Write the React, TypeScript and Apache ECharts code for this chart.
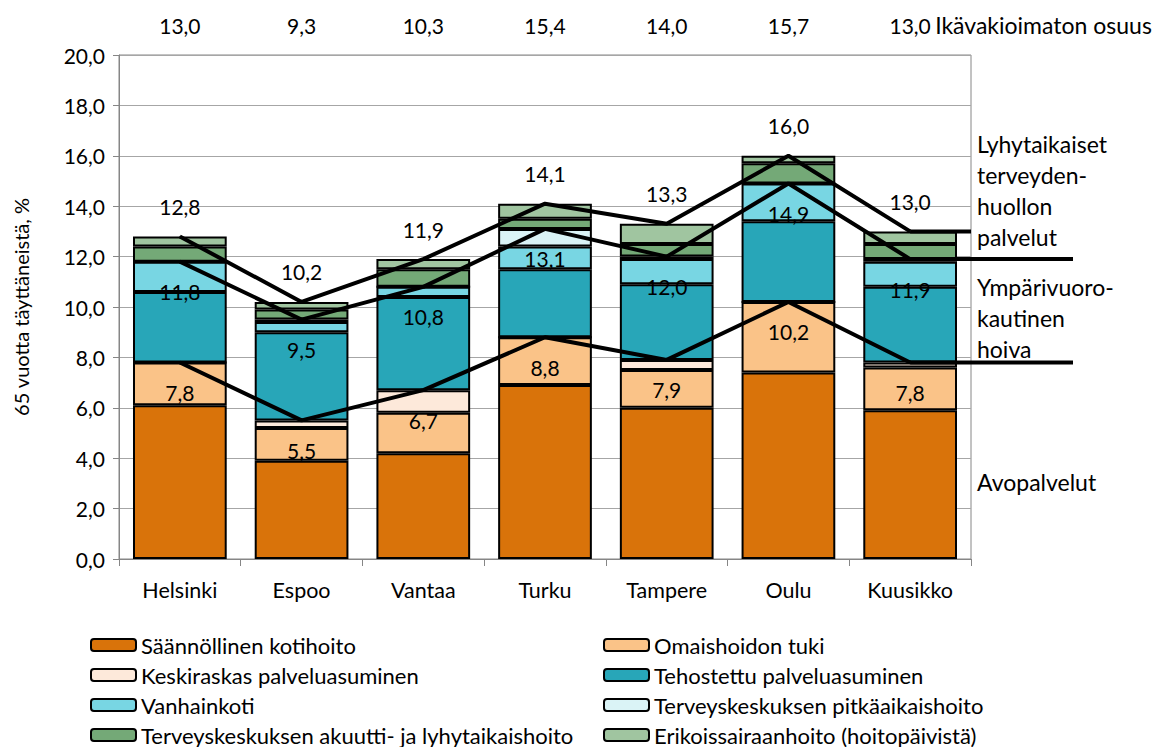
import React, { useEffect, useRef } from "react";
import * as echarts from "echarts";

const categories = ["Helsinki", "Espoo", "Vantaa", "Turku", "Tampere", "Oulu", "Kuusikko"];

const kotihoito = [6.1, 3.9, 4.2, 6.9, 6.0, 7.4, 5.9];
const omaishoito = [1.7, 1.3, 1.6, 1.9, 1.5, 2.8, 1.7];
const keskiraskas = [0.0, 0.3, 0.9, 0.0, 0.4, 0.0, 0.2];
const tehostettu = [2.8, 3.5, 3.7, 2.7, 3.0, 3.2, 3.0];
const vanhainkoti = [1.2, 0.4, 0.4, 0.9, 1.0, 1.5, 1.0];
const tkPitkaaikainen = [0.0, 0.1, 0.0, 0.7, 0.1, 0.0, 0.1];
const tkAkuutti = [0.6, 0.4, 0.7, 0.4, 0.5, 0.8, 0.6];
const erikoissairaanhoito = [0.4, 0.3, 0.4, 0.6, 0.8, 0.3, 0.5];

const avopalvelutTotal = [7.8, 5.5, 6.7, 8.8, 7.9, 10.2, 7.8];
const ymparivuorokautinenTotal = [11.8, 9.5, 10.8, 13.1, 12.0, 14.9, 11.9];
const kaikkiTotal = [12.8, 10.2, 11.9, 14.1, 13.3, 16.0, 13.0];

const ikavakioimaton = [13.0, 9.3, 10.3, 15.4, 14.0, 15.7, 13.0];

const yTicks = { min: 0, max: 20, interval: 2 };

const FONT = "Lato, 'Open Sans', sans-serif";
const fmt = (v: number) => v.toFixed(1).replace(".", ",");

const barSeriesDefs = [
  { name: "Säännöllinen kotihoito", data: kotihoito, color: "#D9730A" },
  { name: "Omaishoidon tuki", data: omaishoito, color: "#FAC388" },
  { name: "Keskiraskas palveluasuminen", data: keskiraskas, color: "#FDE9DA" },
  { name: "Tehostettu palveluasuminen", data: tehostettu, color: "#28A6B8" },
  { name: "Vanhainkoti", data: vanhainkoti, color: "#78D6E3" },
  { name: "Terveyskeskuksen pitkäaikaishoito", data: tkPitkaaikainen, color: "#DAF3F6" },
  { name: "Terveyskeskuksen akuutti- ja lyhytaikaishoito", data: tkAkuutti, color: "#74A977" },
  { name: "Erikoissairaanhoito (hoitopäivistä)", data: erikoissairaanhoito, color: "#A0C5A0" },
];

export default function App() {
  const ref = useRef<HTMLDivElement>(null);

  useEffect(() => {
    document.body.style.margin = "0";
    if (!ref.current) return;
    const chart = echarts.init(ref.current, undefined, { renderer: "svg" });

    const gridLeft = 119;
    const gridRight = 201;
    const plotRight = 1172 - gridRight;

    const bars = barSeriesDefs.map((d) => ({
      name: d.name,
      type: "bar",
      stack: "total",
      data: d.data,
      barCategoryGap: "23%",
      itemStyle: { color: d.color, borderColor: "#000", borderWidth: 2 },
      emphasis: { disabled: true },
    }));

    const lineDef = (name: string, data: number[], position: string, distance: number) => ({
      name,
      type: "line",
      data,
      symbol: "circle",
      symbolSize: 1,
      itemStyle: { color: "#000" },
      lineStyle: { color: "#000", width: 4 },
      z: 5,
      label: {
        show: true,
        position,
        distance,
        formatter: (p: any) => fmt(p.value),
        fontFamily: FONT,
        fontSize: 21,
        color: "#000",
      },
      emphasis: { disabled: true },
    });

    const rowCenters = [645, 675, 705, 735];
    const legends: any[] = [];
    barSeriesDefs.forEach((d, i) => {
      const row = Math.floor(i / 2);
      const col = i % 2;
      legends.push({
        left: col === 0 ? 90 : 603,
        top: rowCenters[row] - 11,
        padding: 0,
        orient: "horizontal",
        itemWidth: 45,
        itemHeight: 12,
        data: [d.name],
        textStyle: { fontFamily: FONT, fontSize: 22, lineHeight: 22, color: "#000", padding: [0, 0, 0, 0] },
        itemStyle: { borderColor: "#000", borderWidth: 2 },
        selectedMode: false,
      });
    });

    const option: any = {
      animation: false,
      textStyle: { fontFamily: FONT },
      grid: {
        left: gridLeft,
        right: gridRight,
        top: 55,
        bottom: 188,
        show: true,
        borderColor: "#868686",
        borderWidth: 1,
      },
      legend: legends,
      xAxis: {
        type: "category",
        data: categories,
        axisLine: { lineStyle: { color: "#868686" } },
        axisTick: { show: true, length: 7, lineStyle: { color: "#868686" } },
        axisLabel: { fontFamily: FONT, fontSize: 21.5, color: "#000", margin: 20 },
      },
      yAxis: {
        type: "value",
        min: yTicks.min,
        max: yTicks.max,
        interval: yTicks.interval,
        name: "65 vuotta täyttäneistä, %",
        nameLocation: "middle",
        nameGap: 88,
        nameTextStyle: { fontFamily: FONT, fontSize: 20, color: "#000" },
        axisLine: { show: true, lineStyle: { color: "#868686" } },
        axisTick: { show: true, length: 6, lineStyle: { color: "#868686" } },
        axisLabel: { fontFamily: FONT, fontSize: 21, color: "#000", margin: 14, formatter: (v: number) => fmt(v) },
        splitLine: { lineStyle: { color: "#A6A6A6", width: 1 } },
      },
      series: [
        ...bars,
        lineDef("Avopalvelut yhteensä", avopalvelutTotal, "bottom", 19),
        lineDef("Ympärivuorokautinen hoiva yhteensä", ymparivuorokautinenTotal, "bottom", 19),
        lineDef("Kaikki yhteensä", kaikkiTotal, "top", 19),
      ],
    };

    chart.setOption(option);

    const last = categories.length - 1;
    const graphics: any[] = [];
    const ext = (v: number, xEnd: number) => {
      const p = chart.convertToPixel({ gridIndex: 0 }, [last, v]) as number[];
      graphics.push({
        type: "line",
        shape: { x1: p[0], y1: p[1], x2: xEnd, y2: p[1] },
        style: { stroke: "#000", lineWidth: 4 },
        z: 10,
      });
    };
    ext(kaikkiTotal[last], plotRight);
    ext(ymparivuorokautinenTotal[last], 1073);
    ext(avopalvelutTotal[last], 1073);

    ikavakioimaton.forEach((v, i) => {
      const p = chart.convertToPixel({ gridIndex: 0 }, [i, 0]) as number[];
      graphics.push({
        type: "text",
        x: p[0],
        y: 25,
        style: { text: fmt(v), fontFamily: FONT, fontSize: 21, fill: "#000", textAlign: "center", textVerticalAlign: "middle" },
      });
      if (i === last) {
        graphics.push({
          type: "text",
          x: p[0] + 25,
          y: 25,
          style: { text: "Ikävakioimaton osuus", fontFamily: FONT, fontSize: 23, fill: "#000", textAlign: "left", textVerticalAlign: "middle" },
        });
      }
    });

    const sideText = (text: string, top: number) => ({
      type: "text",
      x: 977,
      y: top,
      style: { text, fontFamily: FONT, fontSize: 23, lineHeight: 31, fill: "#000", textAlign: "left", textVerticalAlign: "top" },
    });
    graphics.push(sideText("Lyhytaikaiset\nterveyden-\nhuollon\npalvelut", 128));
    graphics.push(sideText("Ympärivuoro-\nkautinen\nhoiva", 271));
    graphics.push(sideText("Avopalvelut", 466));

    chart.setOption({ graphic: graphics });

    return () => chart.dispose();
  }, []);

  return <div ref={ref} style={{ width: 1172, height: 747 }} />;
}
